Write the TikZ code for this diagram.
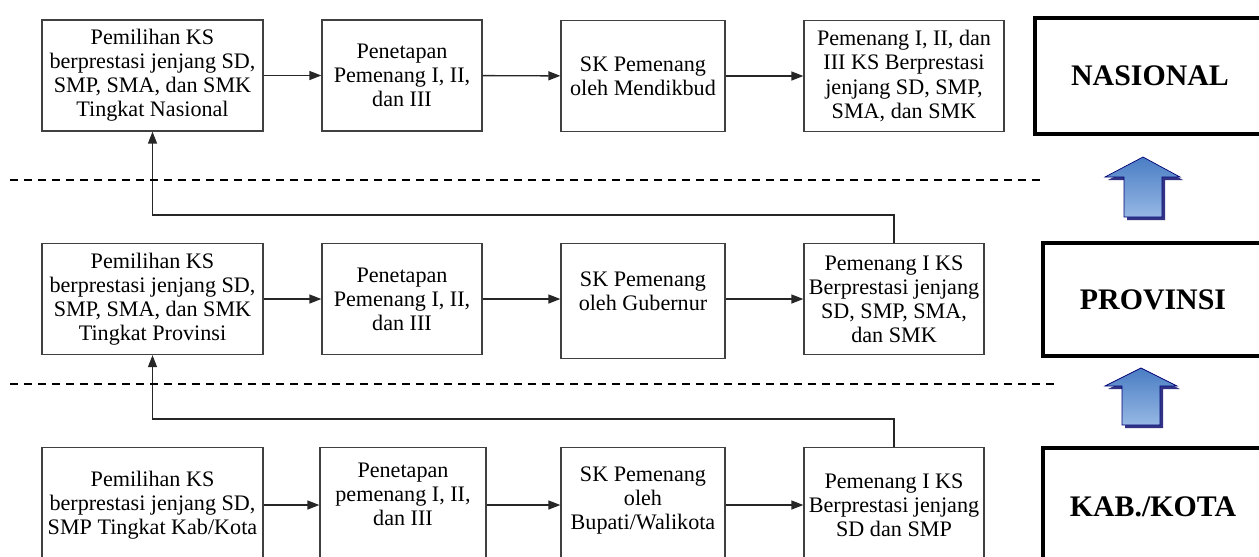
\documentclass[tikz,border=0pt]{standalone}
\usepackage{fontspec}
\setmainfont{Liberation Serif}
\usetikzlibrary{arrows.meta}

\begin{document}
\begin{tikzpicture}[x=0.02cm, y=-0.02cm, >={Triangle[length=2.4mm,width=1.8mm]},
box/.style={draw=black!75, line width=0.75pt, minimum height=22.2mm, align=center, inner sep=1pt, font=\fontsize{12.6}{13.7}\selectfont},
wide/.style={box, minimum width=44.2mm},
mid/.style={box, minimum width=32mm},
sk/.style={box, minimum width=32.8mm},
win/.style={box, minimum width=36mm},
level/.style={draw, line width=2.3pt, minimum width=44mm, minimum height=22.6mm, align=center, font=\fontsize{17}{20}\selectfont\bfseries},
link/.style={->, draw=black!85, line width=0.8pt},
sep/.style={line width=0.8pt, dash pattern=on 1.6mm off 1.2mm},
uparrow/.style={draw=blue!45!black, line width=0.4pt, top color={rgb,255:red,74;green,125;blue,196}, bottom color={rgb,255:red,150;green,184;blue,228}}]
\clip (0,0) rectangle (1259,556);

% nasional
\node[wide] (n1) at (152.5,75.5) {Pemilihan KS\\berprestasi jenjang SD,\\SMP, SMA, dan SMK\\Tingkat Nasional};
\node[mid] (n2) at (402,75.5) {Penetapan\\Pemenang I, II,\\dan III};
\node[sk] (n3) at (643,76) {SK Pemenang\\oleh Mendikbud};
\node[box, minimum width=40mm] (n4) at (904,76) {Pemenang I, II, dan\\III KS Berprestasi\\jenjang SD, SMP,\\SMA, dan SMK};
\node[level, minimum width=46mm, minimum height=23.2mm] (nas) at (1150,76) {NASIONAL};

% provinsi
\node[wide] (p1) at (152.5,299) {Pemilihan KS\\berprestasi jenjang SD,\\SMP, SMA, dan SMK\\Tingkat Provinsi};
\node[mid] (p2) at (402,299) {Penetapan\\Pemenang I, II,\\dan III};
\node[sk, minimum height=23mm] (p3) at (643,301) {SK Pemenang\\oleh Gubernur\\[-0.8mm]};
\node[win] (p4) at (894,299) {Pemenang I KS\\Berprestasi jenjang\\SD, SMP, SMA,\\dan SMK};
\node[level] (prov) at (1153,299.5) {PROVINSI};

% kab/kota
\node[wide, minimum height=23mm] (k1) at (152.5,505) {Pemilihan KS\\berprestasi jenjang SD,\\SMP Tingkat Kab/Kota};
\node[mid, minimum width=33.2mm, minimum height=23mm] (k2) at (403,505) {Penetapan\\pemenang I, II,\\dan III\\[-0.6mm]};
\node[sk, minimum height=23mm] (k3) at (643,505) {SK Pemenang\\oleh\\Bupati/Walikota\\[-2.2mm]};
\node[win, minimum height=23mm] (k4) at (894,505) {Pemenang I KS\\Berprestasi jenjang\\SD dan SMP};
\node[level, minimum height=23.6mm] (kab) at (1153,507) {KAB./KOTA};

\draw[link] (n1) -- (n2);
\draw[link] (n2) -- (n3);
\draw[link] (n3) -- (n4);
\draw[link] (p1) -- (p2);
\draw[link] (p2) -- (p3.west |- p2);
\draw[link] (p3.east |- p4) -- (p4);
\draw[link] (k1) -- (k2);
\draw[link] (k2) -- (k3);
\draw[link] (k3) -- (k4);
\draw[link] (p4.north) -- ++(0,-28) -| (n1.south);
\draw[link] (k4.north) -- ++(0,-28) -| (p1.south);

\draw[sep] (10,180) -- (1045,180);
\draw[sep] (10,384) -- (1055,384);

% block arrows
\fill[blue!40!black, opacity=0.8] (1127,220) -- (1127,180) -- (1108,180) -- (1146,160) -- (1183,180) -- (1165,180) -- (1165,220) -- cycle;
\shade[uparrow] (1124,217) -- (1124,177) -- (1105,177) -- (1143,157) -- (1180,177) -- (1162,177) -- (1162,217) -- cycle;
\fill[blue!40!black, opacity=0.8] (1125,428) -- (1125,389) -- (1108,389) -- (1144,371) -- (1180,389) -- (1163,389) -- (1163,428) -- cycle;
\shade[uparrow] (1122,425) -- (1122,386) -- (1105,386) -- (1141,368) -- (1177,386) -- (1160,386) -- (1160,425) -- cycle;
\end{tikzpicture}
\end{document}
